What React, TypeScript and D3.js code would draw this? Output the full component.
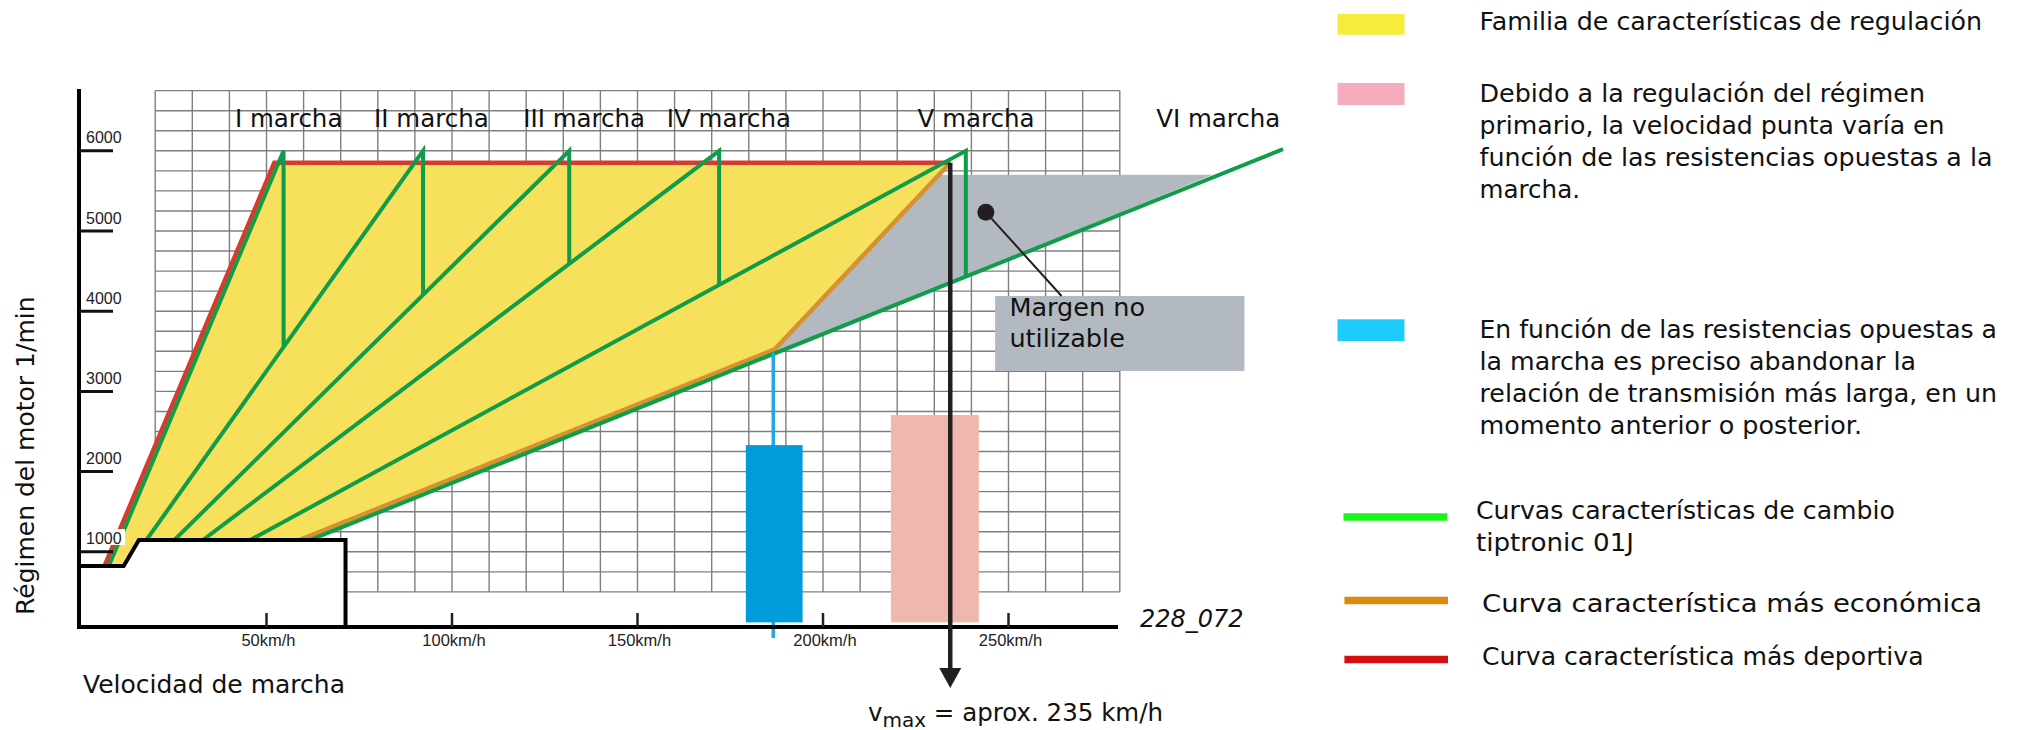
import React from "react";
import * as d3 from "d3";

type P = [number, number];

// ---- axis ticks ----
const speedTicks = [50, 100, 150, 200, 250];
const speedTickLabels = ["50km/h", "100km/h", "150km/h", "200km/h", "250km/h"];
const rpmTicks = [1000, 2000, 3000, 4000, 5000, 6000];
const rpmTickLabels = ["1000", "2000", "3000", "4000", "5000", "6000"];

// ---- gear lines (km/h, rpm) ----
const gearNames = ["I marcha", "II marcha", "III marcha", "IV marcha", "V marcha", "VI marcha"];
const gearLabelSpeeds = [41.5, 79, 119.2, 157.9, 225.5, 289.8];
const gearI: P[] = [[0, 0], [54.6, 6000], [54.6, 3555]];
const gearII: P[] = [[0, 0], [92.2, 6000], [92.2, 4205]];
const gearIII: P[] = [[0, 0], [131.6, 6000], [131.6, 4590]];
const gearIV: P[] = [[0, 0], [172, 6000], [172, 4330]];
const gearV: P[] = [[0, 0], [238.5, 6000], [238.5, 4430]];
const gearVI: P[] = [[0, 0], [324, 6020]];

// ---- characteristic curves ----
const sportCurve: P[] = [[6.4, 830], [52.1, 5850], [234.3, 5850]];
const ecoCurve: P[] = [[58.5, 1140], [187, 3525], [234.3, 5850]];
const regulationArea: P[] = [[6.4, 830], [52.1, 5850], [234.3, 5850], [187, 3525], [58.5, 1140], [15.6, 1147], [11.5, 823]];
const unusableArea: P[] = [[187, 3525], [231.2, 5700], [305, 5700], [187, 3474]];
const lowBoxOutline: P[] = [[-0.5, 823], [11.5, 823], [15.6, 1147], [71.3, 1147], [71.3, 62]];
const lowBoxFill: P[] = [[-0.5, 823], [11.5, 823], [15.6, 1147], [71.3, 1147], [71.3, -120], [-0.5, -120]];

// ---- bars / markers ----
const blueBar = { v0: 179.2, v1: 194.5, r0: 120, r1: 2330 };
const blueLine: P[] = [[186.6, 3479], [186.6, -75]];
const pinkBar = { v0: 218.3, v1: 242, r0: 120, r1: 2706 };
const vmaxArrow: P[] = [[234.3, 5850], [234.3, -450]];
const vmaxTip: P = [234.3, -698];
const marginDot: P = [243.9, 5233];
const marginLeaderEnd: P = [264.3, 4190];
const marginBox = { v0: 246.4, v1: 313.6, r0: 3254, r1: 4190 };
const marginText = ["Margen no", "utilizable"];

// ---- legend ----
const legendFamilia = ["Familia de características de regulación"];
const legendDebido = [
  "Debido a la regulación del régimen",
  "primario, la velocidad punta varía en",
  "función de las resistencias opuestas a la",
  "marcha.",
];
const legendEnFuncion = [
  "En función de las resistencias opuestas a",
  "la marcha es preciso abandonar la",
  "relación de transmisión más larga, en un",
  "momento anterior o posterior.",
];
const legendCurvas = ["Curvas características de cambio", "tiptronic 01J"];
const legendEconomica = ["Curva característica más económica"];
const legendDeportiva = ["Curva característica más deportiva"];

const F = "'DejaVu Sans', 'Liberation Sans', sans-serif";
const FT = "'Liberation Sans', Arial, sans-serif";

export default function App() {
  const W = 2018;
  const H = 730;
  const x = d3.scaleLinear().domain([0, 280]).range([81, 1119.8]);
  const y = d3.scaleLinear().domain([0, 6750]).range([632, 90.65]);
  const line = d3.line<P>().x((d) => x(d[0])).y((d) => y(d[1]));
  const poly = (pts: P[]) => line(pts) + "Z";

  const gridV = d3.range(20, 281, 10);
  const gridH = d3.range(500, 6751, 250);
  const gears = [gearI, gearII, gearIII, gearIV, gearV, gearVI];

  const axisY = 627;
  const axisX = 79;

  const green = "#0f9d49";
  const black = "#231f20";

  const legendText = (lines: string[], x0: number, y0: number, widths: number[], dy = 32) =>
    lines.map((t, i) => (
      <text
        key={t}
        x={x0}
        y={y0 + i * dy}
        fontFamily={F}
        fontSize={25}
        fill="#111"
        textLength={widths[i]}
        lengthAdjust="spacingAndGlyphs"
      >
        {t}
      </text>
    ));

  return (
    <svg
      width={W}
      height={H}
      style={{ position: "absolute", left: 0, top: 0, background: "#fff" }}
    >
      <rect x={0} y={0} width={W} height={H} fill="#fff" />
      {/* grid */}
      <g stroke="#7f7f7f" strokeWidth={1.4}>
        {gridV.map((v) => (
          <line key={"gv" + v} x1={x(v)} x2={x(v)} y1={y(500)} y2={y(6750)} />
        ))}
        {gridH.map((r) => (
          <line key={"gh" + r} x1={x(20)} x2={x(280)} y1={y(r)} y2={y(r)} />
        ))}
      </g>

      {/* areas */}
      <path d={poly(regulationArea)} fill="#f6e05c" />
      <path d={poly(unusableArea)} fill="#b3b9c1" />

      {/* curves */}
      <path d={line(ecoCurve)!} fill="none" stroke="#d69230" strokeWidth={4.5} strokeLinejoin="miter" />
      <path d={line(sportCurve)!} fill="none" stroke="#d63b2f" strokeWidth={4.5} />
      {gears.map((g, i) => (
        <path key={"gear" + i} d={line(g)!} fill="none" stroke={green} strokeWidth={4} strokeLinejoin="miter" />
      ))}

      {/* blue / pink bars */}
      <path d={line(blueLine)!} stroke="#27a7e1" strokeWidth={3.5} fill="none" />
      <rect
        x={x(blueBar.v0)}
        y={y(blueBar.r1)}
        width={x(blueBar.v1) - x(blueBar.v0)}
        height={y(blueBar.r0) - y(blueBar.r1)}
        fill="#009bdb"
      />
      <rect
        x={x(pinkBar.v0)}
        y={y(pinkBar.r1)}
        width={x(pinkBar.v1) - x(pinkBar.v0)}
        height={y(pinkBar.r0) - y(pinkBar.r1)}
        fill="#f0b7ac"
      />

      {/* low speed box */}
      <path d={poly(lowBoxFill)} fill="#fff" />
      <path d={line(lowBoxOutline)!} fill="none" stroke="#000" strokeWidth={4} strokeLinejoin="miter" />

      {/* axes */}
      <line x1={axisX} x2={axisX} y1={89} y2={axisY + 2} stroke="#000" strokeWidth={4} />
      <line x1={axisX - 2} x2={1118} y1={axisY} y2={axisY} stroke="#000" strokeWidth={4} />
      {rpmTicks.map((r, i) => (
        <g key={"rt" + r}>
          {r === 1000 && <rect x={81} y={529} width={44} height={16} fill="#fff" />}
          <line x1={axisX} x2={113} y1={y(r)} y2={y(r)} stroke="#111" strokeWidth={3} />
          <text x={86} y={y(r) - 7.5} fontFamily={FT} fontSize={16} fill="#222">
            {rpmTickLabels[i]}
          </text>
        </g>
      ))}
      {speedTicks.map((v, i) => (
        <g key={"st" + v}>
          <line x1={x(v)} x2={x(v)} y1={axisY} y2={axisY - 14} stroke="#222" strokeWidth={2.5} />
          <text x={x(v) + 2} y={646} textAnchor="middle" fontFamily={FT} fontSize={16.5} fill="#222">
            {speedTickLabels[i]}
          </text>
        </g>
      ))}

      {/* vmax arrow */}
      <path d={line(vmaxArrow)!} stroke={black} strokeWidth={4.5} fill="none" />
      <path
        d={`M${x(vmaxTip[0]) - 11},${y(vmaxTip[1]) - 20}L${x(vmaxTip[0]) + 11},${y(vmaxTip[1]) - 20}L${x(vmaxTip[0])},${y(vmaxTip[1])}Z`}
        fill={black}
      />

      {/* margin annotation */}
      <rect
        x={x(marginBox.v0)}
        y={y(marginBox.r1)}
        width={x(marginBox.v1) - x(marginBox.v0)}
        height={y(marginBox.r0) - y(marginBox.r1)}
        fill="#b3b9c1"
      />
      <line
        x1={x(marginDot[0])}
        y1={y(marginDot[1])}
        x2={x(marginLeaderEnd[0])}
        y2={y(marginLeaderEnd[1])}
        stroke={black}
        strokeWidth={2}
      />
      <circle cx={x(marginDot[0])} cy={y(marginDot[1])} r={8.5} fill={black} />
      {marginText.map((t, i) => (
        <text key={t} x={x(marginBox.v0) + 14.3} y={316 + i * 30.7} fontFamily={F} fontSize={25.5} fill="#111">
          {t}
        </text>
      ))}

      {/* gear labels */}
      {gearNames.map((n, i) => (
        <text key={n} x={x(gearLabelSpeeds[i])} y={y(6300)} fontFamily={F} fontSize={24.5} fill="#111">
          {n}
        </text>
      ))}

      {/* axis titles */}
      <text
        transform="translate(33.5,615) rotate(-90)"
        fontFamily={F}
        fontSize={25}
        fill="#111"
      >
        Régimen del motor 1/min
      </text>
      <text x={83} y={693} fontFamily={F} fontSize={25} fill="#111">
        Velocidad de marcha
      </text>
      <text x={1140} y={627} fontFamily={F} fontStyle="italic" fontSize={24} fill="#111">
        228_072
      </text>
      <text x={868} y={720.5} fontFamily={F} fontSize={24.5} fill="#111">
        v<tspan fontSize={20} dy={6}>max</tspan>
        <tspan dy={-6}> = aprox. 235 km/h</tspan>
      </text>

      {/* legend */}
      <rect x={1337.5} y={14} width={67} height={20.7} fill="#f6ec3a" />
      {legendText(legendFamilia, 1479.5, 29.5, [502.5])}

      <rect x={1337.5} y={83} width={67} height={22} fill="#f5adbd" />
      {legendText(legendDebido, 1479.5, 101.5, [445.5, 465, 513, 100.5])}

      <rect x={1337.5} y={319.3} width={67} height={21.7} fill="#1dcbfd" />
      {legendText(legendEnFuncion, 1479.5, 338.3, [517.5, 436.5, 517.5, 382.5], 31.9)}

      <line x1={1343.5} x2={1447.4} y1={517} y2={517} stroke="#1cf51c" strokeWidth={7.5} />
      {legendText(legendCurvas, 1476, 519.3, [419, 158], 31.4)}

      <line x1={1344.4} x2={1448} y1={600.5} y2={600.5} stroke="#dc8a0c" strokeWidth={7.5} />
      {legendText(legendEconomica, 1482, 611.7, [500])}

      <line x1={1344.4} x2={1448} y1={659.5} y2={659.5} stroke="#d2100f" strokeWidth={7.5} />
      {legendText(legendDeportiva, 1482, 665, [441.6])}
    </svg>
  );
}
